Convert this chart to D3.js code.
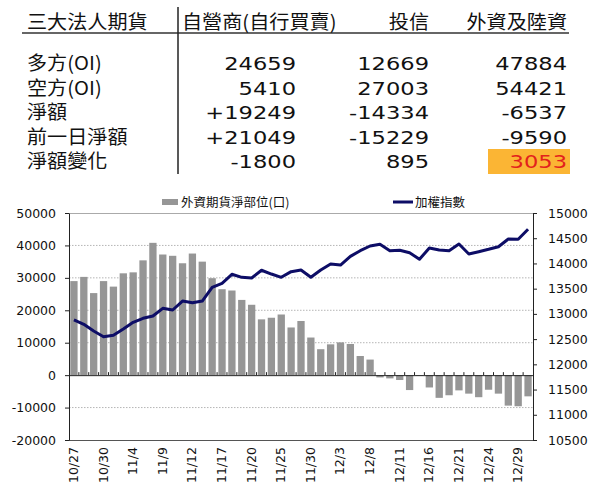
<!DOCTYPE html>
<html><head><meta charset="utf-8">
<script src="https://cdn.jsdelivr.net/npm/d3@7"></script>
<style>html,body{margin:0;padding:0;background:#fff;}svg{display:block;}</style>
</head><body>
<svg id="c" width="600" height="496"></svg>
<script>
// ---- table data ----
const tableHeader = ["三大法人期貨", "自營商(自行買賣)", "投信", "外資及陸資"];
const rowLabels = ["多方(OI)", "空方(OI)", "淨額", "前一日淨額", "淨額變化"];
const dealerCol = ["24659", "5410", "+19249", "+21049", "-1800"];
const trustCol = ["12669", "27003", "-14334", "-15229", "895"];
const foreignCol = ["47884", "54421", "-6537", "-9590", "3053"];

// ---- chart data ----
const dates = ["10/27","10/28","10/29","10/30","11/2","11/3","11/4","11/5","11/6","11/9","11/10","11/11","11/12","11/13","11/16","11/17","11/18","11/19","11/20","11/23","11/24","11/25","11/26","11/27","11/30","12/1","12/2","12/3","12/4","12/7","12/8","12/9","12/10","12/11","12/14","12/15","12/16","12/17","12/18","12/21","12/22","12/23","12/24","12/25","12/28","12/29","12/30"];
const labelDates = ["10/27","10/30","11/4","11/9","11/12","11/17","11/20","11/25","11/30","12/3","12/8","12/11","12/16","12/21","12/24","12/29"];
const netPosition = [29000,30300,25300,29000,27300,31400,31700,35400,40800,37200,36800,34500,37500,35000,29900,26500,26100,23200,21700,17200,17700,18700,14700,16700,11600,8000,9500,10100,9600,5900,4800,-700,-1000,-1500,-4600,-200,-3800,-7000,-6200,-4700,-5700,-6800,-4500,-5700,-9400,-9590,-6537];
const taiex = [12880,12793,12660,12548,12575,12700,12833,12912,12958,13110,13077,13255,13222,13255,13527,13606,13785,13725,13711,13865,13790,13725,13837,13870,13725,13870,13989,13969,14140,14253,14346,14379,14253,14260,14213,14082,14306,14266,14253,14385,14187,14233,14280,14332,14485,14479,14677];
const leftTicks = [-20000,-10000,0,10000,20000,30000,40000,50000];
const rightTicks = [10500,11000,11500,12000,12500,13000,13500,14000,14500,15000];
const legendLabels = ["外資期貨淨部位(口)", "加權指數"];

const svg = d3.select("#c");
const cjk = "'Noto Sans CJK TC','Noto Sans CJK SC',sans-serif";
const num = "'DejaVu Sans','Noto Sans CJK TC',sans-serif";

// ---- table ----
const T = svg.append("g");
const rowY = [70, 94.5, 119, 143.5, 168];
const colRight = [296, 429, 567];
T.append("rect").attr("x", 488).attr("y", 149).attr("width", 82).attr("height", 25).attr("fill", "#fbb534");
T.append("line").attr("x1", 22).attr("x2", 569).attr("y1", 33).attr("y2", 33).attr("stroke", "#333").attr("stroke-width", 1.5);
T.append("line").attr("x1", 178).attr("x2", 178).attr("y1", 7).attr("y2", 174).attr("stroke", "#222").attr("stroke-width", 1.5);

function ttext(str, x, y, anchor, fam, size, sx, color) {
  T.append("text").attr("transform", `translate(${x},${y}) scale(${sx},1)`)
    .attr("text-anchor", anchor).attr("font-family", fam).attr("font-size", size)
    .attr("fill", color || "#111").text(str);
}
ttext(tableHeader[0], 27, 28.5, "start", cjk, 19, 1.06);
ttext(tableHeader[1], 182, 28.5, "start", cjk, 19, 1.06);
ttext(tableHeader[2], colRight[1], 28.5, "end", cjk, 19, 1.06);
ttext(tableHeader[3], colRight[2], 28.5, "end", cjk, 19, 1.06);
rowLabels.forEach((l, i) => ttext(l, 27, rowY[i], "start", cjk, 19, 1.06));
[dealerCol, trustCol, foreignCol].forEach((col, c) => {
  col.forEach((v, i) => {
    const red = (c === 2 && i === 4);
    ttext(v, colRight[c], rowY[i], "end", num, 18.5, 1.22, red ? "#e3211c" : "#111");
  });
});

// ---- chart ----
const L = 69, R = 533, TOP = 213, BOT = 440;
const x = d3.scaleBand().domain(dates).range([L, R]).paddingInner(0.26).paddingOuter(0.13);
const yL = d3.scaleLinear().domain([-20000, 50000]).range([BOT, TOP]);
const yR = d3.scaleLinear().domain([10500, 15000]).range([BOT, TOP]);

// gridlines
svg.append("g").selectAll("line").data(leftTicks.filter(d => d !== 0 && d !== 50000 && d !== -20000))
  .join("line").attr("x1", L).attr("x2", R).attr("y1", d => yL(d)).attr("y2", d => yL(d))
  .attr("stroke", "#b5b5b5").attr("stroke-dasharray", "1.5,1.5").attr("stroke-width", 1);

// frame
svg.append("line").attr("x1", L).attr("x2", R).attr("y1", TOP + 0.5).attr("y2", TOP + 0.5).attr("stroke", "#aaa");
svg.append("line").attr("x1", L).attr("x2", R).attr("y1", BOT + 0.5).attr("y2", BOT + 0.5).attr("stroke", "#555");

// bars
svg.append("g").selectAll("rect").data(dates).join("rect")
  .attr("x", d => x(d)).attr("width", x.bandwidth())
  .attr("y", (d, i) => yL(Math.max(0, netPosition[i])))
  .attr("height", (d, i) => Math.abs(yL(netPosition[i]) - yL(0)))
  .attr("fill", "#969696");

// zero line with ticks at band boundaries
const step = x.step();
svg.append("line").attr("x1", L).attr("x2", R).attr("y1", yL(0) + 0.5).attr("y2", yL(0) + 0.5).attr("stroke", "#222").attr("stroke-width", 1);
svg.append("g").selectAll("line").data(dates.slice(0, -1)).join("line")
  .attr("x1", d => x(d) + x.bandwidth() + (step - x.bandwidth()) / 2)
  .attr("x2", d => x(d) + x.bandwidth() + (step - x.bandwidth()) / 2)
  .attr("y1", yL(0) - 3).attr("y2", yL(0)).attr("stroke", "#222");

// line
const line = d3.line().x((d, i) => x(dates[i]) + x.bandwidth() / 2).y(d => yR(d));
svg.append("path").datum(taiex).attr("d", line).attr("fill", "none")
  .attr("stroke", "#0d0d66").attr("stroke-width", 3).attr("stroke-linejoin", "round");

// axes
const axL = svg.append("g").attr("transform", `translate(${L},0)`)
  .call(d3.axisLeft(yL).tickValues(leftTicks).tickSize(4).tickSizeOuter(0).tickFormat(d => String(d)));
const axR = svg.append("g").attr("transform", `translate(${R},0)`)
  .call(d3.axisRight(yR).tickValues(rightTicks).tickSize(4).tickSizeOuter(0).tickFormat(d => String(d)));
[axL, axR].forEach(a => {
  a.selectAll("text").attr("font-family", num).attr("font-size", 12.5).attr("fill", "#111");
  a.selectAll("line,path").attr("stroke", "#222");
});
axL.selectAll("text").attr("x", -13);
axR.selectAll("text").attr("x", 15);

// x labels
svg.append("g").selectAll("text").data(labelDates).join("text")
  .attr("transform", d => `translate(${x(d) + x.bandwidth() / 2 + 4},447) rotate(-90)`)
  .attr("text-anchor", "end").attr("font-family", num).attr("font-size", 12.5).attr("fill", "#111")
  .text(d => d);

// legend
svg.append("rect").attr("x", 162).attr("y", 199).attr("width", 16).attr("height", 6).attr("fill", "#969696");
svg.append("text").attr("x", 181).attr("y", 207).attr("font-family", cjk).attr("font-size", 12.5).attr("fill", "#111").text(legendLabels[0]);
svg.append("line").attr("x1", 393).attr("x2", 413).attr("y1", 202).attr("y2", 202).attr("stroke", "#0d0d66").attr("stroke-width", 3);
svg.append("text").attr("x", 415).attr("y", 207).attr("font-family", cjk).attr("font-size", 12.5).attr("fill", "#111").text(legendLabels[1]);
</script>
</body></html>
